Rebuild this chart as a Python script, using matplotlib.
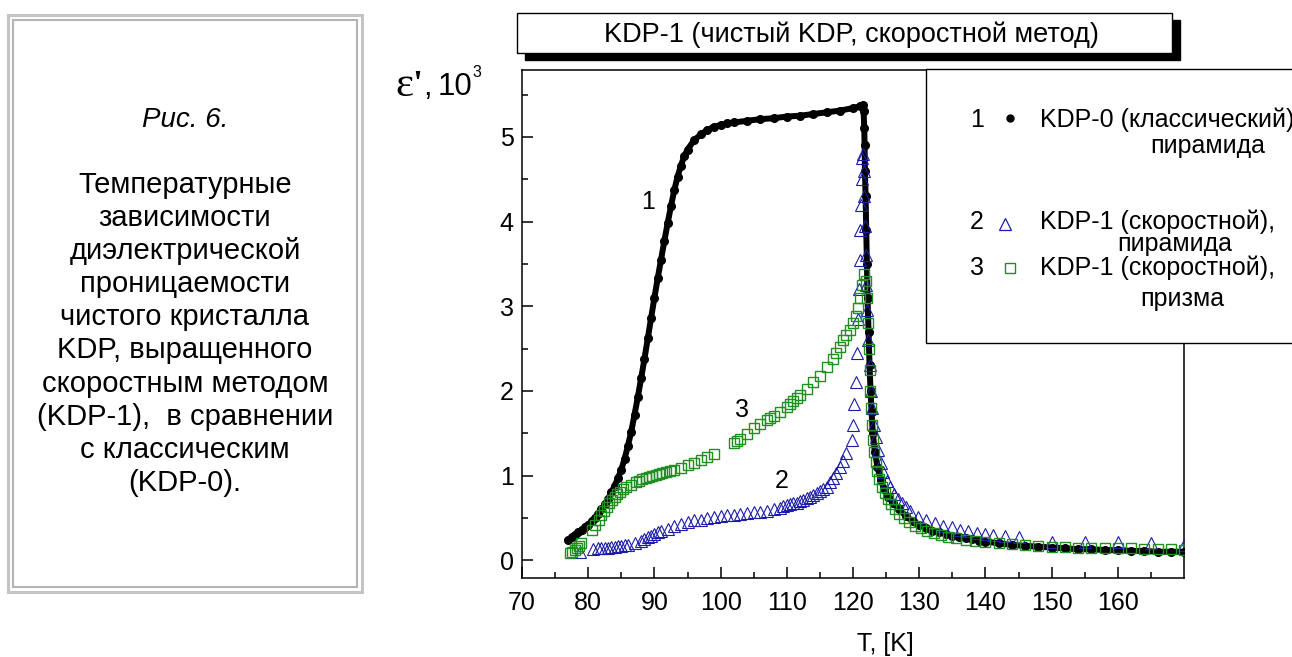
import numpy as np
import matplotlib
matplotlib.use("Agg")
import matplotlib.pyplot as plt
from matplotlib.patches import Rectangle

plt.rcParams['font.family'] = ['Liberation Sans', 'DejaVu Sans']

W, H = 1292, 657

# 1: KDP-0 (классический), пирамида
T1 = [77.0, 77.5, 78.0, 78.5, 79.0, 79.5, 80.0, 80.5, 81.0, 81.5, 82.0, 82.5,
      83.0, 83.5, 84.0, 84.5, 85.0, 85.5, 86.0, 86.5, 87.0, 87.5, 88.0, 88.5,
      89.0, 89.5, 90.0, 90.5, 91.0, 91.5, 92.0, 92.5, 93.0, 93.5, 94.0, 94.5,
      95.0, 96.0, 97.0, 98.0, 99.0, 100.0, 101.0, 102.0, 104.0, 106.0, 108.0,
      110.0, 112.0, 114.0, 116.0, 118.0, 120.0, 121.0, 121.5, 121.6, 121.7,
      121.75, 121.8, 121.9, 122.0, 122.1, 122.2, 122.35, 122.5, 122.65, 122.8,
      123.0, 123.3, 123.7, 124.2, 124.7, 125.3, 126.0, 127.0, 128.0, 129.0,
      130.0, 131.0, 132.0, 133.0, 134.0, 135.0, 136.0, 137.0, 138.0, 139.0,
      140.0, 142.0, 144.0, 146.0, 148.0, 150.0, 152.0, 154.0, 156.0, 158.0,
      160.0, 162.0, 164.0, 166.0, 168.0, 170.0]
E1 = [0.24, 0.27, 0.30, 0.33, 0.36, 0.39, 0.42, 0.46, 0.50, 0.55, 0.60, 0.66,
      0.72, 0.80, 0.88, 0.97, 1.07, 1.20, 1.35, 1.52, 1.72, 1.93, 2.15, 2.38,
      2.62, 2.86, 3.10, 3.33, 3.55, 3.77, 3.98, 4.18, 4.37, 4.53, 4.66, 4.77,
      4.85, 4.96, 5.03, 5.08, 5.12, 5.14, 5.16, 5.17, 5.19, 5.21, 5.22,
      5.24, 5.25, 5.27, 5.29, 5.31, 5.34, 5.36, 5.38, 5.30, 5.10,
      4.90, 4.60, 4.30, 3.90, 3.50, 3.10, 2.70, 2.30, 2.00, 1.75,
      1.50, 1.28, 1.10, 0.95, 0.84, 0.75, 0.68, 0.60, 0.52, 0.46,
      0.42, 0.38, 0.35, 0.33, 0.31, 0.29, 0.28, 0.26, 0.25, 0.23,
      0.22, 0.20, 0.18, 0.17, 0.16, 0.15, 0.14, 0.13, 0.13, 0.12,
      0.12, 0.11, 0.11, 0.10, 0.10, 0.10]

# 2: KDP-1 (скоростной), пирамида
T2 = [78.8, 80.8, 81.5, 82.0, 82.5, 83.0, 83.5, 84.0, 84.5, 85.0, 85.5, 86.0,
      87.0, 88.0, 88.5, 89.0, 89.5, 90.0, 90.5, 91.0, 92.0, 93.0, 94.0, 95.0,
      96.0, 97.0, 98.0, 99.0, 100.0, 101.0, 102.0, 103.0, 104.0, 105.0, 106.0,
      107.0, 108.0, 109.0, 109.5, 110.0, 110.5, 111.0, 111.5, 112.0, 112.5,
      113.0, 113.5, 114.0, 114.5, 115.0, 115.5, 116.0, 116.5, 117.0, 117.5,
      118.0, 118.5, 119.0, 119.8, 120.0, 120.2, 120.4, 120.6, 120.8, 120.9,
      121.0, 121.1, 121.2, 121.3, 121.4, 121.5, 121.6, 121.7, 121.8, 121.9,
      122.0, 122.1, 122.3, 122.5, 122.7, 122.9, 123.2, 123.5, 123.8, 124.2,
      124.6, 125.1, 125.6, 126.2, 126.8, 127.4, 128.0, 128.6, 129.8, 131.1,
      132.4, 133.6, 134.9, 136.2, 137.4, 138.7, 140.0, 141.2, 143.0, 145.0,
      150.0, 155.0, 160.0, 165.0, 170.0]
E2 = [0.10, 0.13, 0.14, 0.14, 0.15, 0.15, 0.16, 0.16, 0.17, 0.17, 0.18, 0.18,
      0.20, 0.23, 0.25, 0.27, 0.29, 0.31, 0.33, 0.34, 0.37, 0.40, 0.43, 0.45,
      0.47, 0.48, 0.50, 0.51, 0.52, 0.53, 0.54, 0.55, 0.56, 0.57, 0.57,
      0.58, 0.60, 0.62, 0.64, 0.65, 0.66, 0.67, 0.68, 0.70, 0.71,
      0.73, 0.75, 0.77, 0.79, 0.82, 0.84, 0.87, 0.92, 0.97, 1.03,
      1.10, 1.17, 1.27, 1.42, 1.60, 1.85, 2.10, 2.45, 2.85, 3.20,
      3.55, 3.90, 4.20, 4.50, 4.75, 4.80, 4.60, 4.30, 3.95, 3.60,
      3.25, 2.95, 2.60, 2.30, 2.00, 1.80, 1.60, 1.45, 1.30, 1.15,
      1.04, 0.94, 0.86, 0.78, 0.72, 0.67, 0.63, 0.58, 0.51, 0.48,
      0.44, 0.41, 0.39, 0.36, 0.34, 0.32, 0.31, 0.30, 0.29, 0.27,
      0.22, 0.22, 0.21, 0.20, 0.18]

# 3: KDP-1 (скоростной), призма
T3 = [77.2, 77.6, 78.0, 78.3, 78.6, 78.9, 80.6, 81.1, 81.6, 82.0, 82.4, 82.8,
      83.2, 83.6, 84.0, 84.4, 84.8, 85.2, 85.7, 86.5, 87.2, 87.7, 88.2, 88.7,
      89.2, 89.7, 90.2, 90.7, 91.2, 91.7, 92.3, 93.0, 94.0, 95.0, 96.0, 97.0,
      98.0, 99.0, 102.0, 102.5, 103.0, 104.0, 105.0, 106.0, 107.0, 107.5,
      108.0, 109.0, 110.0, 110.5, 111.0, 111.5, 112.0, 113.0, 114.0, 115.0,
      116.0, 117.0, 117.5, 118.0, 118.5, 119.0, 119.5, 120.0, 120.4, 120.8,
      121.1, 121.4, 121.6, 121.9, 122.1, 122.3, 122.4, 122.5, 122.6, 122.7,
      122.8, 123.0, 123.2, 123.4, 123.7, 124.0, 124.4, 124.8, 125.3, 125.8,
      126.4, 127.0, 127.7, 128.5, 129.3, 130.2, 131.2, 132.2, 133.3, 134.4,
      135.6, 137.0, 138.5, 140.0, 142.0, 144.0, 146.0, 148.0, 150.0, 152.0,
      154.0, 156.0, 158.0, 160.0, 162.0, 164.0, 166.0, 168.0, 170.0]
E3 = [0.08, 0.10, 0.12, 0.14, 0.17, 0.20, 0.36, 0.42, 0.48, 0.53, 0.58, 0.63,
      0.67, 0.71, 0.75, 0.78, 0.81, 0.84, 0.86, 0.89, 0.92, 0.94, 0.96, 0.97,
      0.98, 1.00, 1.01, 1.02, 1.03, 1.04, 1.05, 1.07, 1.09, 1.12, 1.15, 1.18,
      1.22, 1.26, 1.38, 1.41, 1.43, 1.49, 1.56, 1.61, 1.66, 1.68,
      1.70, 1.75, 1.81, 1.85, 1.88, 1.92, 1.95, 2.02, 2.10, 2.18,
      2.28, 2.38, 2.45, 2.52, 2.60, 2.66, 2.72, 2.80, 2.88, 2.98,
      3.10, 3.25, 3.38, 3.30, 3.10, 2.80, 2.50, 2.25, 2.00, 1.80,
      1.60, 1.42, 1.28, 1.16, 1.05, 0.96, 0.87, 0.79, 0.72, 0.66,
      0.60, 0.55, 0.50, 0.45, 0.41, 0.38, 0.35, 0.32, 0.30, 0.28,
      0.26, 0.24, 0.23, 0.21, 0.20, 0.19, 0.18, 0.17, 0.16, 0.16,
      0.15, 0.15, 0.14, 0.14, 0.14, 0.13, 0.13, 0.13, 0.12]

x_ticks = [70, 80, 90, 100, 110, 120, 130, 140, 150, 160]
y_ticks = [0, 1, 2, 3, 4, 5]

caption_lines = ["Температурные", "зависимости", "диэлектрической",
                 "проницаемости", "чистого кристалла", "KDP, выращенного",
                 "скоростным методом", "(KDP-1),  в сравнении",
                 "с классическим", "(KDP-0)."]

blue = '#1c1ca8'
green = '#1f8f1f'


def fx(x):
    return x / W


def fy(y):
    return 1 - y / H


def box(x0, y0, x1, y1, **kw):
    r = Rectangle((fx(x0), fy(y1)), fx(x1) - fx(x0), fy(y0) - fy(y1),
                  transform=fig.transFigure, **kw)
    fig.add_artist(r)


fig = plt.figure(figsize=(W / 100, H / 100), dpi=100)
ax = fig.add_axes([fx(522), fy(578), fx(1184) - fx(522), fy(70) - fy(578)])

ax.plot(T1, E1, '-o', color='black', lw=4.3, ms=5.5, zorder=2)
ax.plot(T2, E2, '^', mfc='none', mec=blue, mew=0.8, ms=8, zorder=3)
ax.plot(T3, E3, 's', mfc='none', mec=green, mew=1.0, ms=7, zorder=4)

ax.set_xlim(70, 170)
ax.set_ylim(-0.21, 5.79)
ax.set_xticks(x_ticks)
ax.set_xticks(np.arange(75, 170, 10), minor=True)
ax.set_yticks(y_ticks)
ax.set_yticks(np.arange(0.5, 5.6, 1.0), minor=True)
ax.tick_params(which='both', direction='in', top=False, right=False,
               width=1.1, labelsize=18)
ax.tick_params(which='major', length=8)
ax.tick_params(which='minor', length=4.3)
ax.tick_params(axis='x', pad=9)
ax.tick_params(axis='y', pad=6)
for s in ax.spines.values():
    s.set_linewidth(1.1)

# номера кривых
ax.text(89.0, 4.23, '1', fontsize=18, ha='center', va='center')
ax.text(109.3, 0.93, '2', fontsize=18, ha='center', va='center')
ax.text(103.2, 1.77, '3', fontsize=18, ha='center', va='center')

# подписи осей
fig.text(fx(395), fy(96), "ε", family='Liberation Serif', fontsize=31,
         ha='left', va='baseline')
fig.text(fx(412), fy(95), "'", family='Liberation Serif', fontsize=26,
         weight='bold', ha='left', va='baseline')
fig.text(fx(423), fy(95), ",", fontsize=22, ha='left', va='baseline')
fig.text(fx(438), fy(95), "10", fontsize=22.5, ha='left', va='baseline')
fig.text(fx(472), fy(77), "3", fontsize=11.5, ha='left', va='baseline')
fig.text(fx(857), fy(651), "T, [K]", fontsize=18, ha='left', va='baseline')

# заголовок в рамке с тенью
box(525, 20, 1180, 60, facecolor='black', edgecolor='black', zorder=1)
box(517, 13, 1172, 53, facecolor='white', edgecolor='black', lw=1, zorder=2)
fig.text(fx(851), fy(42), "KDP-1 (чистый KDP, скоростной метод)",
         fontsize=19.5, ha='center', va='baseline', zorder=5)

# легенда
box(926, 69, 1300, 343, facecolor='white', edgecolor='black', lw=1, zorder=2)
leg = fig.add_axes([fx(926), fy(343), fx(1292) - fx(926), fy(69) - fy(343)],
                   zorder=6)
leg.set_xlim(926, 1292)
leg.set_ylim(343, 69)
leg.axis('off')
leg.plot([1010], [118], 'o', color='black', ms=5)
leg.plot([1005], [224], '^', mfc='none', mec=blue, mew=0.9, ms=8)
leg.plot([1010], [268], 's', mfc='none', mec=green, mew=1.0, ms=7)
for num, y in [('1', 127), ('2', 229), ('3', 275)]:
    leg.text(977, y, num, fontsize=18, ha='center', va='baseline')
leg.text(1040, 127, "KDP-0 (классический)", fontsize=18, va='baseline')
leg.text(1150, 153, "пирамида", fontsize=18, va='baseline')
leg.text(1040, 229, "KDP-1 (скоростной),", fontsize=18, va='baseline')
leg.text(1117, 251, "пирамида", fontsize=18, va='baseline')
leg.text(1040, 275, "KDP-1 (скоростной),", fontsize=18, va='baseline')
leg.text(1140, 306, "призма", fontsize=18, va='baseline')

# подпись к рисунку в двойной рамке
box(8, 15, 362, 592, facecolor='white', edgecolor='#c4c4c4', lw=2.2, zorder=1)
box(13, 20, 357, 587, facecolor='none', edgecolor='#b4b4b4', lw=1.5, zorder=2)
fig.text(fx(185), fy(127), "Рис. 6.", fontsize=20, style='italic',
         ha='center', va='baseline')
for i, line in enumerate(caption_lines):
    fig.text(fx(185), fy(193 + 33.1 * i), line, fontsize=21,
             ha='center', va='baseline')

fig.savefig('out.png', dpi=100)
